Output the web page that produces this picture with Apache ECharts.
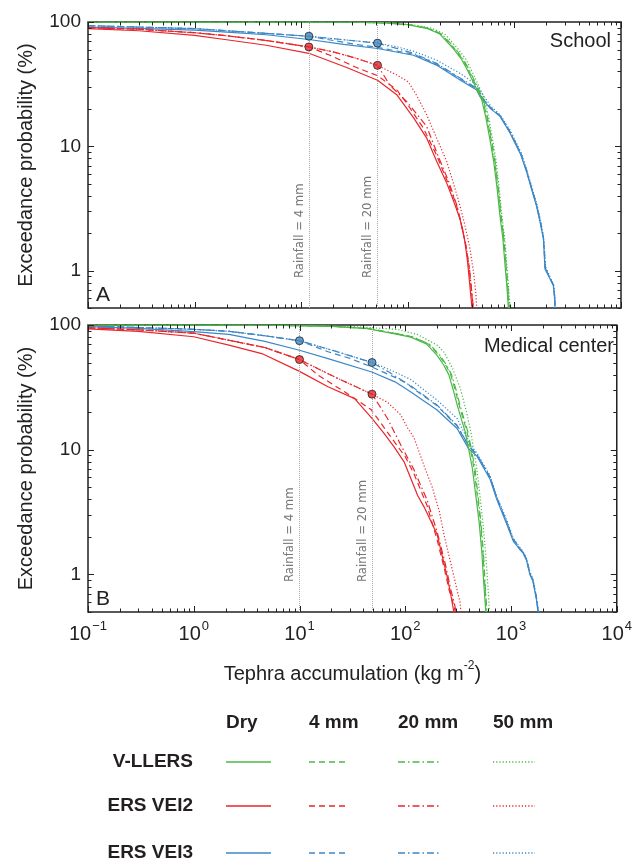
<!DOCTYPE html>
<html><head><meta charset="utf-8">
<script src="https://cdn.jsdelivr.net/npm/echarts@6/dist/echarts.min.js"></script>
<style>html,body{margin:0;padding:0;background:#fff}#c{width:635px;height:861px}</style>
</head><body><div id="c"></div>
<script>
// ---------------- DATA ----------------
const panelNames = ['School', 'Medical center'];
const panelLetters = ['A', 'B'];
const sourceNames = ['V-LLERS', 'ERS VEI2', 'ERS VEI3'];
const rainNames = ['Dry', '4 mm', '20 mm', '50 mm'];
const rainLineLabels = ['Rainfall = 4 mm', 'Rainfall = 20 mm'];

const xTicksMajor = [0.1, 1, 10, 100, 1000, 10000];
const xTicksMinor = [0.2,0.3,0.4,0.5,0.6,0.7,0.8,0.9, 2,3,4,5,6,7,8,9, 20,30,40,50,60,70,80,90,
                     200,300,400,500,600,700,800,900, 2000,3000,4000,5000,6000,7000,8000,9000];
const yTicksMajor = [1, 10, 100];
const yTicksMinor = [0.5,0.6,0.7,0.8,0.9, 2,3,4,5,6,7,8,9, 20,30,40,50,60,70,80,90];

// Rainfall thresholds (kg m-2)
const schoolRainX = [11.8, 52];
const medRainX = [10, 48.5];

// Threshold markers
const schoolVei2Dots = [[11.8, 63], [52, 44.8]];
const schoolVei3Dots = [[11.8, 76.8], [52, 67.6]];
const medVei2Dots = [[10, 52.8], [48.5, 27.9]];
const medVei3Dots = [[10, 74.8], [48.5, 50]];

// ---- School (A) ----
const schoolVllersDry = [[0.1,100],[30,99.5],[60,98.5],[100,95],[150,89],[200,80],[267,61],[320,50],[357,42],[410,33],[450,28],[493,23.7],[540,17],[590,11.3],[640,7.5],[690,4.5],[730,2.8],[780,1.8],[825,1.0],[855,0.7],[878,0.5]];
const schoolVllers4 = [[0.1,100],[31,99.5],[62,98.5],[103,95],[154,89],[205,80],[274,61],[328,50],[366,42],[420,33],[461,28],[505,23.7],[553,17],[604,11.3],[654,7.5],[705,4.5],[745,2.8],[795,1.8],[840,1.0],[868,0.7],[890,0.5]];
const schoolVllers20 = [[0.1,100],[31,99.5],[63,98.5],[105,95],[157,89],[209,80],[279,61],[334,50],[372,42],[427,33],[468,28],[512,23.7],[560,17],[611,11.3],[660,7.5],[710,4.5],[750,2.8],[800,1.8],[845,1.0],[873,0.7],[895,0.5]];
const schoolVllers50 = [[0.1,100],[35,99.5],[68,98.5],[112,95],[168,89],[222,80],[295,61],[352,50],[390,42],[445,33],[485,28],[528,23.7],[575,17],[625,11.3],[675,7.5],[722,4.5],[762,2.8],[812,1.8],[858,1.0],[888,0.7],[910,0.5]];

const schoolVei2Dry = [[0.1,88.5],[0.3,85],[1,78],[2,72],[4.7,65],[11.8,56],[26.7,43],[52,34],[78.7,26],[113,17],[150,11.7],[186,7.6],[231,5.1],[270,3.6],[309,2.6],[340,1.8],[361,1.24],[380,0.8],[392,0.6],[400,0.5]];
const schoolVei24 = [[0.1,90],[0.3,87.5],[1,82],[2,77.5],[4.7,71],[11.8,63],[18.6,54],[33,43],[52,37],[78.7,28.5],[97.5,22.3],[140,14],[186,8.5],[240,5],[285,3.4],[320,2.3],[350,1.6],[375,1.1],[395,0.7],[410,0.5]];
const schoolVei220 = [[0.1,90],[0.3,87.5],[1,82],[2,77.5],[4.7,71],[11.8,63],[20,57.5],[33,51],[52,44.8],[68,31],[80,27],[97.5,23],[150,14.5],[193,8.3],[240,5.3],[290,3.3],[325,2.2],[355,1.5],[380,1.0],[400,0.65],[412,0.5]];
const schoolVei250 = [[0.1,90],[0.3,87.5],[1,82],[2,77.5],[4.7,71],[11.8,63],[20,57.5],[33,51],[52,44.8],[78.7,37.5],[101,33],[120,26],[150,18],[186,11.7],[231,7.6],[265,5.2],[298,3.7],[340,2.4],[383,1.5],[415,0.95],[435,0.65],[443,0.5]];

const schoolVei3Dry = [[0.1,91],[0.3,89],[1,86],[2,83],[4.7,79],[11.8,72.3],[25,66],[52,61.2],[113,54],[186,45],[309,34.2],[443,28.4],[475,25.2],[600,20],[733,17.4],[910,12.8],[977,11.3],[1150,8.5],[1303,6.2],[1450,4.5],[1612,3.3],[1750,2.4],[1871,1.8],[1900,1.4],[1937,1.03],[2100,0.9],[2318,0.76],[2380,0.6],[2405,0.5]];
const schoolVei34 = [[0.1,93.5],[0.3,91],[1,88.5],[2,85],[4.7,81],[11.8,76.8],[20,71],[33,66],[52,62.5],[113,55],[186,46],[309,35],[443,29],[480,25.5],[600,20.3],[733,17.6],[910,13],[977,11.5],[1150,8.7],[1303,6.3],[1450,4.6],[1612,3.4],[1750,2.5],[1871,1.85],[1910,1.4],[1945,1.05],[2110,0.9],[2330,0.76],[2390,0.6],[2415,0.5]];
const schoolVei320 = [[0.1,93.5],[0.3,91],[1,88.5],[2,85],[4.7,81],[11.8,76.8],[25,72],[52,67.6],[80,61],[113,56],[186,46.5],[309,35.5],[443,29.2],[480,25.7],[600,20.4],[733,17.7],[910,13.1],[977,11.6],[1150,8.8],[1303,6.4],[1450,4.6],[1612,3.4],[1750,2.5],[1871,1.85],[1915,1.4],[1950,1.05],[2115,0.9],[2335,0.76],[2395,0.6],[2420,0.5]];
const schoolVei350 = [[0.1,93.5],[0.3,91],[1,88.5],[2,85],[4.7,81],[11.8,76.8],[25,72],[52,67.6],[80,63],[113,58.3],[186,49.4],[309,38.6],[443,31.2],[500,26.5],[600,21],[733,18],[910,13.5],[977,12],[1150,9],[1303,6.5],[1450,4.8],[1612,3.5],[1750,2.6],[1871,1.9],[1920,1.45],[1955,1.08],[2120,0.92],[2340,0.77],[2400,0.6],[2425,0.5]];

// ---- Medical center (B) ----
const medVllersDry = [[0.1,100],[5,99.5],[20,97.5],[44,93.5],[55,90],[80,85],[113,80],[160,70],[200,57],[230,48],[258,40],[285,30],[309,23],[340,17.5],[369,13.9],[397,10.2],[430,7.2],[475,3.7],[500,2.6],[530,1.5],[550,0.9],[565,0.65],[578,0.5]];
const medVllers4 = [[0.1,100],[5.5,99.5],[21,97.5],[46,93.5],[57,90],[83,85],[118,80],[167,70],[209,57],[240,48],[269,40],[297,30],[322,23],[354,17.5],[384,13.9],[413,10.2],[446,7.2],[490,3.7],[514,2.6],[543,1.5],[562,0.9],[576,0.65],[588,0.5]];
const medVllers20 = [[0.1,100],[6,99.5],[22,97.5],[47,93.5],[58,90],[85,85],[120,80],[170,70],[213,57],[245,48],[274,40],[303,30],[328,23],[360,17.5],[391,13.9],[421,10.2],[455,7.2],[497,3.7],[520,2.6],[548,1.5],[567,0.9],[580,0.65],[592,0.5]];
const medVllers50 = [[0.1,100],[8,99.5],[30,97.5],[60,94],[84.5,92],[130,84],[200,69],[231,61],[280,45],[332,31],[380,20],[420,13.5],[443,10],[470,7.5],[510,4.2],[545,2.5],[575,1.5],[600,0.9],[615,0.65],[625,0.5]];

const medVei2Dry = [[0.1,93],[0.3,89],[1,80.5],[2.15,69],[4.4,59],[10,42.5],[18.6,32],[33.2,25.7],[48,18],[63,13.5],[78.7,10.5],[97.5,8],[131,4.3],[150,3.5],[200,2.1],[246,1.0],[267,0.72],[288,0.5]];
const medVei24 = [[0.1,95],[0.3,91.5],[1,86],[2.15,75.5],[4.7,66],[10,52.8],[15,39.6],[26.7,29.1],[47.5,21],[78.7,11.6],[100,8.8],[120,6.5],[160,3.6],[200,1.9],[235,1.1],[260,0.75],[285,0.58],[298,0.5]];
const medVei220 = [[0.1,95],[0.3,91.5],[1,86],[2.15,75.5],[4.7,66],[10,52.8],[21.4,38.4],[48.5,27.9],[68,17.8],[90.8,10.9],[120,7.0],[160,4.0],[200,2.2],[240,1.2],[270,0.75],[290,0.6],[302,0.5]];
const medVei250 = [[0.1,95],[0.3,91.5],[1,86],[2.15,75.5],[4.7,66],[10,52.8],[21.4,38.4],[48.5,27.9],[68,24],[90.8,19],[105,15],[121,12.5],[150,7.5],[180,5],[210,3.2],[235,2.0],[265,1.3],[290,0.95],[315,0.7],[330,0.6],[335,0.5]];

const medVei3Dry = [[0.1,97],[0.3,94],[1,88.5],[2.15,84],[4.7,74],[10,62.7],[18.6,53.7],[48.3,42],[80,35],[113,29],[200,20.8],[309,14.8],[397,10.2],[475,8.9],[634,5.8],[733,4.0],[900,2.6],[1050,1.85],[1200,1.6],[1303,1.48],[1400,1.3],[1507,1.0],[1612,0.88],[1738,0.63],[1800,0.5]];
const medVei34 = [[0.1,98],[0.3,95.5],[1,92.3],[2.15,89],[4.7,82],[10,74.8],[18.6,61],[30,54],[48.3,46.1],[80,38],[105,34],[113,32],[200,22.5],[309,15.5],[397,10.7],[475,9.1],[634,6],[733,4.1],[900,2.7],[1050,1.9],[1200,1.63],[1303,1.5],[1400,1.32],[1507,1.02],[1612,0.9],[1738,0.65],[1810,0.5]];
const medVei320 = [[0.1,98],[0.3,95.5],[1,92.3],[2.15,89],[4.7,82],[10,74.8],[21.4,62],[48.5,50],[70,42],[97.5,35],[113,32.5],[200,22.8],[309,15.7],[397,10.8],[475,9.2],[634,6.05],[733,4.15],[900,2.72],[1050,1.92],[1200,1.64],[1303,1.5],[1400,1.33],[1507,1.03],[1612,0.9],[1738,0.66],[1815,0.5]];
const medVei350 = [[0.1,98],[0.3,95.5],[1,92.3],[2.15,89],[4.7,82],[10,74.8],[21.4,62],[48.5,50],[55,48],[80,42],[113,36.5],[200,25],[309,17.8],[412,11],[475,9.4],[634,6.2],[733,4.25],[900,2.8],[1050,1.95],[1200,1.67],[1303,1.52],[1400,1.35],[1507,1.05],[1612,0.92],[1738,0.67],[1820,0.5]];

// ---------------- BUILD ----------------
const FONT = "'Liberation Sans', Arial, Helvetica, sans-serif";
const NARROW = "'Liberation Sans Narrow', 'DejaVu Sans Condensed', sans-serif";
const sourceColors = ['#4cb848', '#e8262b', '#3c87c6'];
const rainDash = ['solid', [6, 4], [7, 3, 1.5, 3], [1.2, 2]];

const curves = [
  [[schoolVllersDry, schoolVllers4, schoolVllers20, schoolVllers50],
   [schoolVei2Dry, schoolVei24, schoolVei220, schoolVei250],
   [schoolVei3Dry, schoolVei34, schoolVei320, schoolVei350]],
  [[medVllersDry, medVllers4, medVllers20, medVllers50],
   [medVei2Dry, medVei24, medVei220, medVei250],
   [medVei3Dry, medVei34, medVei320, medVei350]]
];
const rainX = [schoolRainX, medRainX];
const dots = [[schoolVei2Dots, schoolVei3Dots], [medVei2Dots, medVei3Dots]];

const grids = [
  {left: 88, top: 22, width: 533, height: 286},
  {left: 88, top: 325, width: 533, height: 287}
].map(g => Object.assign(g, {show: true, borderColor: '#222', borderWidth: 1.5, backgroundColor: 'transparent'}));

const xAxes = [0, 1].map(p => ({
  type: 'log', logBase: 10, min: 0.1, max: 10000, gridIndex: p,
  axisLine: {show: false}, axisTick: {show: false}, splitLine: {show: false},
  axisLabel: p === 1 ? {
    show: true, margin: 8, showMinLabel: true, showMaxLabel: true, hideOverlap: false,
    formatter: v => { const e = Math.round(Math.log10(v)); return '{b|10}{s|' + (e < 0 ? '\u2212' + (-e) : e) + '}'; },
    rich: {
      b: {fontSize: 20, fontFamily: FONT, color: '#222', lineHeight: 24, verticalAlign: 'bottom'},
      s: {fontSize: 13, fontFamily: FONT, color: '#222', lineHeight: 24, verticalAlign: 'top', padding: [0, 0, 0, 1]}
    }
  } : {show: false},
  name: p === 1 ? '{a|Tephra accumulation (kg m}{s|-2}{a|)}' : '',
  nameLocation: 'middle', nameGap: 48,
  nameTextStyle: {rich: {
    a: {fontSize: 20, fontFamily: FONT, color: '#222', lineHeight: 24, verticalAlign: 'bottom'},
    s: {fontSize: 12, fontFamily: FONT, color: '#222', lineHeight: 24, verticalAlign: 'top'}
  }}
}));

const yAxes = [0, 1].map(p => ({
  type: 'log', logBase: 10, min: 0.5, max: 100, gridIndex: p,
  axisLine: {show: false}, axisTick: {show: false}, splitLine: {show: false},
  axisLabel: {show: true, margin: 7, fontSize: 19, fontFamily: FONT, color: '#222',
    formatter: v => (v >= 1 ? String(Math.round(v)) : '')},
  name: 'Exceedance probability (%)', nameLocation: 'middle', nameGap: 52,
  nameTextStyle: {fontSize: 20, fontFamily: FONT, color: '#222'}
}));

const series = [];
for (let p = 0; p < 2; p++) {
  // ticks (drawn through the axes' scales)
  const tickData = [];
  xTicksMajor.forEach(v => tickData.push([v, 1, 0, 1]));
  xTicksMinor.forEach(v => tickData.push([v, 1, 0, 0]));
  yTicksMajor.forEach(v => tickData.push([1, v, 1, 1]));
  yTicksMinor.forEach(v => tickData.push([1, v, 1, 0]));
  series.push({
    type: 'custom', xAxisIndex: p, yAxisIndex: p, silent: true, z: 8, data: tickData,
    renderItem: (params, api) => {
      const cs = params.coordSys;
      const len = api.value(3) ? 6 : 3.5;
      const st = {stroke: '#222', lineWidth: 1};
      if (api.value(2) === 0) {
        const x = Math.round(api.coord([api.value(0), 1])[0]) + 0.5;
        return {type: 'group', children: [
          {type: 'line', shape: {x1: x, y1: cs.y + cs.height, x2: x, y2: cs.y + cs.height - len}, style: st},
          {type: 'line', shape: {x1: x, y1: cs.y, x2: x, y2: cs.y + len}, style: st}]};
      }
      const y = Math.round(api.coord([1, api.value(1)])[1]) + 0.5;
      return {type: 'group', children: [
        {type: 'line', shape: {x1: cs.x, y1: y, x2: cs.x + len, y2: y}, style: st},
        {type: 'line', shape: {x1: cs.x + cs.width, y1: y, x2: cs.x + cs.width - len, y2: y}, style: st}]};
    }
  });
  // curves
  const order = [2, 0, 1];
  order.forEach(s => {
    for (let r = 0; r < 4; r++) {
      series.push({
        type: 'line', name: sourceNames[s] + ' ' + rainNames[r], xAxisIndex: p, yAxisIndex: p,
        data: curves[p][s][r], showSymbol: false, symbol: 'none', silent: true, z: 3,
        lineStyle: {color: sourceColors[s], width: 1.2, type: rainDash[r]}
      });
    }
  });
  // markers + rainfall threshold lines
  [1, 2].forEach((s, i) => {
    series.push({
      type: 'scatter', xAxisIndex: p, yAxisIndex: p, data: dots[p][s === 1 ? 0 : 1],
      symbol: 'circle', symbolSize: 8, z: 10, silent: true,
      itemStyle: {color: sourceColors[s], borderColor: '#222', borderWidth: 1},
      markLine: i === 0 ? {
        silent: true, symbol: ['none', 'none'], animation: false,
        lineStyle: {color: '#aaa', type: [1, 1], width: 1},
        label: {show: true, position: 'insideStartTop', distance: [30, 3],
          color: '#777', fontSize: 13, fontFamily: NARROW},
        data: rainX[p].map((v, k) => ({xAxis: v, label: {formatter: rainLineLabels[k]}}))
      } : undefined
    });
  });
}

// legend table (graphic)
const legendColX = [226, 309, 398, 493];
const legendColLen = [45, 37, 43, 42];
const legendRowY = [762, 806, 853];
const graphic = [];
rainNames.forEach((t, r) => graphic.push({type: 'text', x: legendColX[r], y: 723,
  style: {text: t, font: 'bold 19px ' + FONT, fill: '#231f20', textAlign: 'left', textVerticalAlign: 'middle'}}));
sourceNames.forEach((t, s) => {
  graphic.push({type: 'text', x: 193, y: legendRowY[s],
    style: {text: t, font: 'bold 19px ' + FONT, fill: '#231f20', textAlign: 'right', textVerticalAlign: 'middle'}});
  rainNames.forEach((_, r) => graphic.push({type: 'line',
    shape: {x1: legendColX[r], y1: legendRowY[s], x2: legendColX[r] + legendColLen[r], y2: legendRowY[s]},
    style: {stroke: sourceColors[s], lineWidth: 1.5, lineDash: r === 0 ? null : rainDash[r]}}));
});

const titles = [];
titles.push({text: panelNames[0], right: 24, top: 31, padding: 0, textStyle: {fontSize: 20, fontWeight: 'normal', color: '#222', fontFamily: FONT}});
titles.push({text: panelNames[1], right: 21, top: 336, padding: 0, textStyle: {fontSize: 20, fontWeight: 'normal', color: '#222', fontFamily: FONT}});
titles.push({text: panelLetters[0], left: 96, top: 285, padding: 0, textStyle: {fontSize: 21, fontWeight: 'normal', color: '#222', fontFamily: FONT}});
titles.push({text: panelLetters[1], left: 96, top: 589, padding: 0, textStyle: {fontSize: 21, fontWeight: 'normal', color: '#222', fontFamily: FONT}});

const chart = echarts.init(document.getElementById('c'), null, {renderer: 'canvas'});
chart.setOption({
  animation: false, backgroundColor: '#fff',
  title: titles, grid: grids, xAxis: xAxes, yAxis: yAxes, series: series, graphic: graphic
});
</script></body></html>
